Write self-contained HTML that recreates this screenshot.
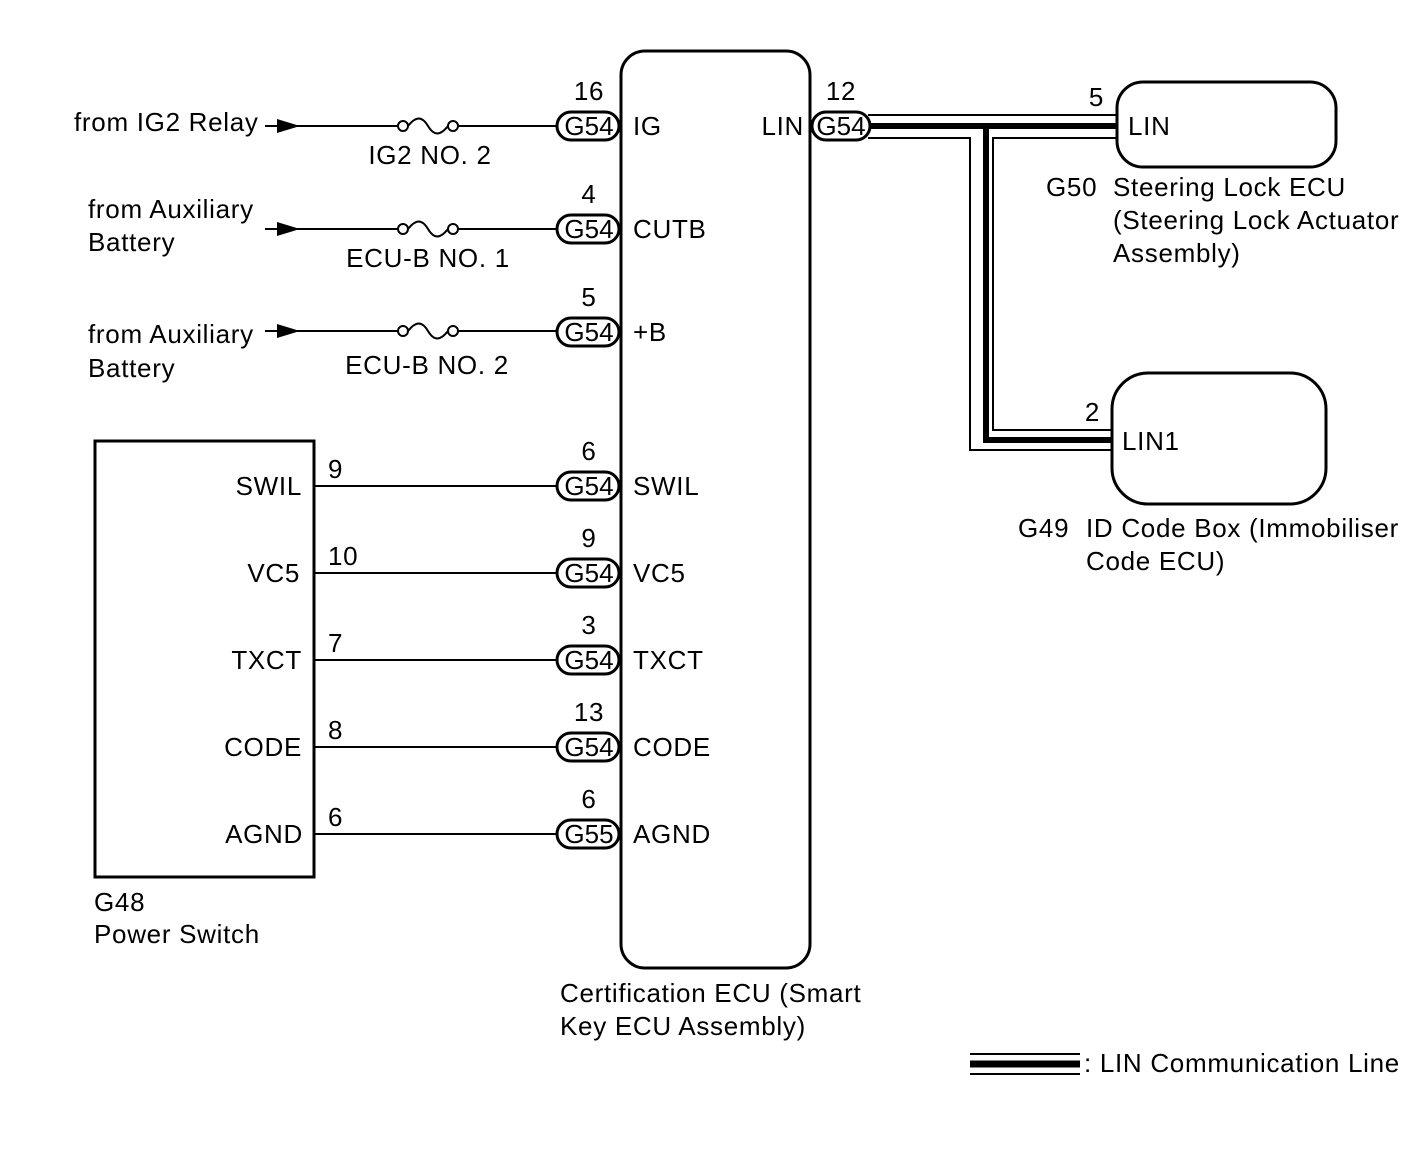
<!DOCTYPE html>
<html><head><meta charset="utf-8"><style>
html,body{margin:0;padding:0;background:#fff}
svg text{font-family:"Liberation Sans",sans-serif;font-size:26px;letter-spacing:0.7px;fill:#000}
</style></head><body>
<svg width="1424" height="1160" viewBox="0 0 1424 1160" xmlns="http://www.w3.org/2000/svg">
<g fill="none" stroke="#000" stroke-width="3">
<rect x="621" y="51" width="189" height="917" rx="24"/>
<rect x="95" y="441" width="219" height="436"/>
<rect x="1117" y="82" width="219" height="85" rx="26"/>
<rect x="1112" y="373" width="214" height="131" rx="36"/>
</g>
<g stroke="#000" stroke-width="2">
<line x1="265" y1="126" x2="398" y2="126"/><line x1="458" y1="126" x2="557" y2="126"/>
<line x1="265" y1="229" x2="398" y2="229"/><line x1="458" y1="229" x2="557" y2="229"/>
<line x1="265" y1="331" x2="398" y2="331"/><line x1="458" y1="331" x2="557" y2="331"/>
<line x1="314" y1="486" x2="557" y2="486"/>
<line x1="314" y1="573" x2="557" y2="573"/>
<line x1="314" y1="660" x2="557" y2="660"/>
<line x1="314" y1="747" x2="557" y2="747"/>
<line x1="314" y1="834" x2="557" y2="834"/>
</g>
<g fill="#000">
<polygon points="277,119 300,126 277,133"/>
<polygon points="277,222 300,229 277,236"/>
<polygon points="277,324 300,331 277,338"/>
</g>
<g fill="none" stroke="#000" stroke-width="2">
<circle cx="403" cy="126" r="5"/><circle cx="453" cy="126" r="5"/><path d="M408,126 C416,116 422,116 428,126 S440,136 448,126"/>
<circle cx="403" cy="229" r="5"/><circle cx="453" cy="229" r="5"/><path d="M408,229 C416,219 422,219 428,229 S440,239 448,229"/>
<circle cx="403" cy="331" r="5"/><circle cx="453" cy="331" r="5"/><path d="M408,331 C416,321 422,321 428,331 S440,341 448,331"/>
</g>
<g fill="none" stroke="#000">
<line x1="868" y1="115" x2="1117" y2="115" stroke-width="2"/>
<line x1="868" y1="126" x2="1117" y2="126" stroke-width="6"/>
<polyline points="868,138 970,138 970,450 1112,450" stroke-width="2"/>
<polyline points="986,126 986,440 1112,440" stroke-width="6"/>
<polyline points="1117,138 993,138 993,430 1112,430" stroke-width="2"/>
<line x1="970" y1="1054" x2="1080" y2="1054" stroke-width="2"/>
<line x1="970" y1="1064" x2="1080" y2="1064" stroke-width="7"/>
<line x1="970" y1="1074" x2="1080" y2="1074" stroke-width="2"/>
</g>
<g fill="#fff" stroke="#000" stroke-width="3">
<rect x="557" y="112" width="62" height="28" rx="14"/>
<rect x="557" y="215" width="62" height="28" rx="14"/>
<rect x="557" y="318" width="62" height="28" rx="14"/>
<rect x="557" y="472" width="62" height="28" rx="14"/>
<rect x="557" y="559" width="62" height="28" rx="14"/>
<rect x="557" y="646" width="62" height="28" rx="14"/>
<rect x="557" y="733" width="62" height="28" rx="14"/>
<rect x="557" y="820" width="62" height="28" rx="14"/>
<rect x="812" y="112" width="58" height="28" rx="14"/>
</g>
<g text-anchor="middle">
<text x="589" y="135" style="letter-spacing:0">G54</text><text x="589" y="238" style="letter-spacing:0">G54</text><text x="589" y="341" style="letter-spacing:0">G54</text>
<text x="589" y="495" style="letter-spacing:0">G54</text><text x="589" y="582" style="letter-spacing:0">G54</text><text x="589" y="669" style="letter-spacing:0">G54</text>
<text x="589" y="756" style="letter-spacing:0">G54</text><text x="589" y="843" style="letter-spacing:0">G55</text><text x="841" y="135" style="letter-spacing:0">G54</text>
<text x="589" y="100">16</text><text x="589" y="203">4</text><text x="589" y="306">5</text>
<text x="589" y="460">6</text><text x="589" y="547">9</text><text x="589" y="634">3</text>
<text x="589" y="721">13</text><text x="589" y="808">6</text><text x="841" y="100">12</text>
<text x="430" y="164">IG2 NO. 2</text><text x="428" y="267">ECU-B NO. 1</text><text x="427" y="374">ECU-B NO. 2</text>
</g>
<text x="633" y="135">IG</text><text x="633" y="238">CUTB</text><text x="633" y="341">+B</text>
<text x="633" y="495">SWIL</text><text x="633" y="582">VC5</text><text x="633" y="669">TXCT</text>
<text x="633" y="756">CODE</text><text x="633" y="843">AGND</text>
<text x="804" y="135" text-anchor="end">LIN</text>
<text x="74" y="131">from IG2 Relay</text>
<text x="88" y="218">from Auxiliary</text><text x="88" y="251">Battery</text>
<text x="88" y="343">from Auxiliary</text><text x="88" y="377">Battery</text>
<g text-anchor="end">
<text x="302" y="495">SWIL</text><text x="300" y="582">VC5</text><text x="302" y="669">TXCT</text>
<text x="302" y="756">CODE</text><text x="303" y="843">AGND</text>
<text x="1104" y="106">5</text><text x="1100" y="421">2</text>
</g>
<text x="328" y="478">9</text><text x="328" y="565">10</text><text x="328" y="652">7</text>
<text x="328" y="739">8</text><text x="328" y="826">6</text>
<text x="94" y="911">G48</text><text x="94" y="943">Power Switch</text>
<text x="560" y="1002">Certification ECU (Smart</text><text x="560" y="1035">Key ECU Assembly)</text>
<text x="1128" y="135">LIN</text><text x="1122" y="450">LIN1</text>
<text x="1046" y="196">G50</text><text x="1113" y="196">Steering Lock ECU</text>
<text x="1113" y="229">(Steering Lock Actuator</text><text x="1113" y="262">Assembly)</text>
<text x="1018" y="537">G49</text><text x="1086" y="537">ID Code Box (Immobiliser</text>
<text x="1086" y="570">Code ECU)</text>
<text x="1084" y="1072">: LIN Communication Line</text>
</svg>
</body></html>
